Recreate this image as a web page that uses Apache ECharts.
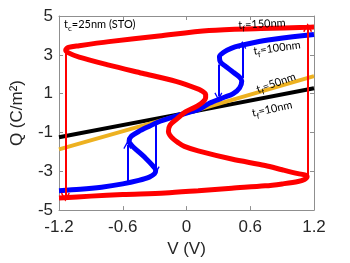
<!DOCTYPE html>
<html><head><meta charset="utf-8">
<script src="https://cdn.jsdelivr.net/npm/echarts@6/dist/echarts.min.js"></script>
<style>html,body{margin:0;padding:0;background:#fff}#c{width:350px;height:263px}</style>
</head><body><div id="c"></div>
<script>
// Tick labels
const xTicks = [-1.2, -0.6, 0, 0.6, 1.2];
const yTicks = [-5, -3, -1, 1, 3, 5];

// t_f = 10 nm (black)
const blackV = [-1.2, 0, 1.2];
const blackQ = [-1.25, 0.01, 1.28];

// t_f = 50 nm (yellow)
const yellowV = [-1.2, 0, 1.2];
const yellowQ = [-1.87, 0.0, 1.9];

// t_f = 100 nm (blue S-curve)
const blueV = [-1.2, -1.0, -0.8, -0.6, -0.45, -0.35, -0.3, -0.29, -0.32, -0.38, -0.45, -0.51, -0.54, -0.52, -0.45, -0.35, -0.26, -0.12, 0.0,
               0.12, 0.22, 0.35, 0.44, 0.5, 0.52, 0.5, 0.44, 0.37, 0.32, 0.31, 0.35, 0.42, 0.5, 0.65, 0.82, 1.0, 1.2];
const blueQ = [-4.0, -3.93, -3.82, -3.65, -3.47, -3.3, -3.12, -2.95, -2.7, -2.35, -2.0, -1.7, -1.45, -1.2, -0.95, -0.68, -0.45, -0.2, 0.0,
               0.2, 0.52, 0.8, 1.0, 1.3, 1.65, 1.85, 2.1, 2.4, 2.62, 2.9, 3.13, 3.33, 3.47, 3.65, 3.8, 3.93, 4.05];

// t_f = 150 nm (red S-curve)
const redV = [-1.2, -0.9, -0.6, -0.2, 0.11, 0.425, 0.74, 0.9, 1.05, 1.11, 1.135, 1.12, 1.05, 0.9, 0.74, 0.425, 0.11, -0.02, -0.077, -0.14, -0.17, -0.155, -0.09, -0.014,
              0.08, 0.15, 0.18, 0.18, 0.15, 0.118, -0.1, -0.416, -0.73, -1.01, -1.11, -1.137, -1.11, -1.01, -0.73, -0.26, 0.212, 0.7, 1.14, 1.2];
const redQ = [-4.38, -4.28, -4.2, -4.12, -4.0, -3.87, -3.75, -3.65, -3.53, -3.42, -3.28, -3.2, -3.12, -2.92, -2.7, -2.37, -1.95, -1.72, -1.53, -1.25, -0.95, -0.62, -0.3, 0.05,
              0.3, 0.55, 0.8, 0.97, 1.12, 1.22, 1.63, 2.05, 2.47, 2.88, 3.1, 3.25, 3.38, 3.47, 3.68, 3.97, 4.25, 4.35, 4.42, 4.43];

// Switching arrows: [V, Qstart, Qend]
const redArrowV = [-1.14, 1.14];
const redArrowFrom = [3.25, -3.28];
const redArrowTo = [-4.33, 4.4];
const blueArrowV = [-0.557, -0.29, 0.3, 0.525];
const blueArrowFrom = [-3.55, -0.6, 2.5, 1.8];
const blueArrowTo = [-1.65, -2.95, 0.85, 3.5];

const pair = (xs, ys) => xs.map((x, i) => [x, ys[i]]);
const arrows = (vs, a, b) => vs.map((v, i) => ({coords: [[v, a[i]], [v, b[i]]]}));

const chevron = 'path://M5,0 L10,9 L8.6,10 L5,3.2 L1.4,10 L0,9 Z';
const axisCol = '#8f8f8f';
const labCol = '#262626';
const tickFont = {fontSize: 17, fontFamily: 'Liberation Sans, Arial, sans-serif', color: labCol};

function xAx(pos, show) {
  return {
    type: 'value', position: pos, min: xTicks[0], max: xTicks[xTicks.length - 1],
    interval: xTicks[1] - xTicks[0],
    axisLine: {show: true, onZero: false, lineStyle: {color: axisCol, width: 1}},
    axisTick: {show: true, inside: true, length: 4, lineStyle: {color: axisCol}},
    axisLabel: Object.assign({show: show, margin: 9}, tickFont),
    splitLine: {show: false},
    name: show ? 'V (V)' : '', nameLocation: 'middle', nameGap: 29,
    nameTextStyle: tickFont
  };
}
function yAx(pos, show) {
  return {
    type: 'value', position: pos, min: yTicks[0], max: yTicks[yTicks.length - 1],
    interval: yTicks[1] - yTicks[0],
    axisLine: {show: true, onZero: false, lineStyle: {color: axisCol, width: 1}},
    axisTick: {show: true, inside: true, length: 4, lineStyle: {color: axisCol}},
    axisLabel: Object.assign({show: show, margin: 6}, tickFont),
    splitLine: {show: false},
    name: show ? 'Q (C/m²)' : '', nameLocation: 'middle', nameGap: 33,
    nameTextStyle: tickFont
  };
}

const lf = 'Lato, "Open Sans", sans-serif';
const rich = {
  a: {fontSize: 11, fontFamily: lf, color: '#1a1a1a', lineHeight: 16, verticalAlign: 'middle'},
  s: {fontSize: 8, fontFamily: lf, color: '#1a1a1a', lineHeight: 16, verticalAlign: 'bottom'}
};
function lab(x, y, sub, rest, rot, align) {
  return {type: 'text', x: x, y: y, rotation: rot * Math.PI / 180, z: 100,
    style: {text: '{a|t}{s|' + sub + '}{a|' + rest + '}', rich: rich, align: align || 'center', verticalAlign: 'middle'}};
}

const chart = echarts.init(document.getElementById('c'), null, {renderer: 'canvas'});
chart.setOption({
  animation: false,
  backgroundColor: '#fff',
  grid: {left: 59, right: 36, top: 16, bottom: 47, containLabel: false},
  xAxis: [xAx('bottom', true), xAx('top', false)],
  yAxis: [yAx('left', true), yAx('right', false)],
  series: [
    {type: 'line', data: pair(blackV, blackQ), symbol: 'none', lineStyle: {color: '#000', width: 4}, z: 2},
    {type: 'line', data: pair(yellowV, yellowQ), symbol: 'none', lineStyle: {color: '#edb120', width: 4}, z: 3},
    {type: 'line', data: pair(blueV, blueQ), symbol: 'none', smooth: 0.3, lineStyle: {color: '#0000ff', width: 5}, z: 4},
    {type: 'lines', coordinateSystem: 'cartesian2d', data: arrows(blueArrowV, blueArrowFrom, blueArrowTo),
      symbol: ['none', chevron], symbolSize: [8, 8], lineStyle: {color: '#0000ff', width: 2, opacity: 1}, z: 5},
    {type: 'line', data: pair(redV, redQ), symbol: 'none', smooth: 0.3, lineStyle: {color: '#ff0000', width: 5}, z: 6},
    {type: 'lines', coordinateSystem: 'cartesian2d', data: arrows(redArrowV, redArrowFrom, redArrowTo),
      symbol: ['none', chevron], symbolSize: [10, 9], lineStyle: {color: '#ff0000', width: 2, opacity: 1}, z: 7}
  ],
  graphic: [
    lab(64, 24, 'c', '=25nm (STO)', 0, 'left'),
    lab(262, 24, 'f', '=150nm', 3),
    lab(277, 48, 'f', '=100nm', 8),
    lab(276, 83, 'f', '=50nm', 20),
    lab(272, 109, 'f', '=10nm', 12)
  ]
});
</script></body></html>
